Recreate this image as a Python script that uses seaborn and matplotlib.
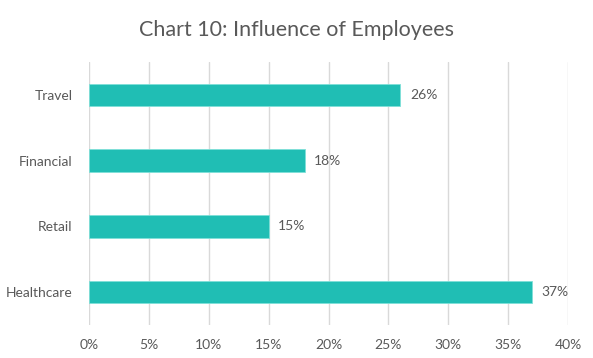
import matplotlib
matplotlib.use("Agg")
import matplotlib.pyplot as plt
import seaborn as sns
import pandas as pd

categories = ["Travel", "Financial", "Retail", "Healthcare"]
values = [26, 18, 15, 37]
xticks = [0, 5, 10, 15, 20, 25, 30, 35, 40]
xticklabels = ["0%", "5%", "10%", "15%", "20%", "25%", "30%", "35%", "40%"]

sns.set_theme(style="white")
plt.rcParams['font.family'] = ['Lato', 'DejaVu Sans']

df = pd.DataFrame({"cat": categories, "val": values})
gray = "#595959"

fig = plt.figure(figsize=(5.93, 3.58), dpi=100)
ax = fig.add_axes([0.150, 0.092, 0.808, 0.735])
sns.barplot(data=df, x="val", y="cat", orient="h", color="#20BEB4",
            width=0.34, ax=ax, saturation=1, edgecolor="#7FE0D8", linewidth=0.6, zorder=3)

ax.set_xlim(0, 40)
ax.set_ylim(3.5, -0.5)
ax.set_xticks(xticks)
ax.set_xticklabels(xticklabels, color=gray, fontsize=10)
ax.tick_params(axis='y', colors=gray, labelsize=10, length=0, pad=12)
ax.tick_params(axis='x', length=0, pad=10)
ax.xaxis.grid(True, color="#D9D9D9", linewidth=1, zorder=0)
ax.set_axisbelow(True)
for s in ax.spines.values():
    s.set_visible(False)
ax.set_xlabel("")
ax.set_ylabel("")

for i, v in enumerate(values):
    ax.text(v + 0.8, i, f"{v}%", va="center", ha="left", color=gray, fontsize=10)

fig.suptitle("Chart 10: Influence of Employees", y=0.945, color=gray, fontsize=15.5)
fig.savefig("out.png", dpi=100)
